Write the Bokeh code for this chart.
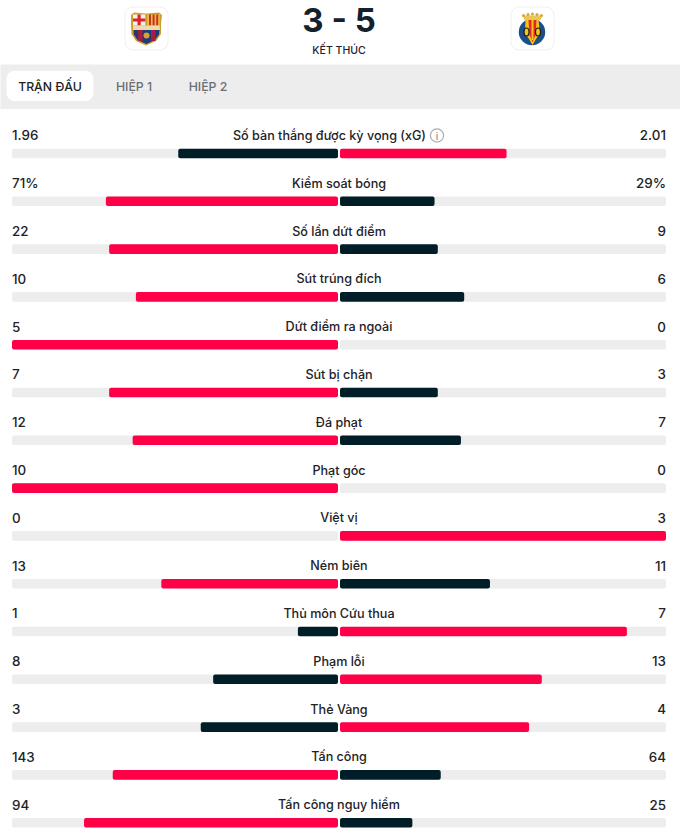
from bokeh.plotting import figure
from bokeh.embed import file_html
from bokeh.resources import INLINE
from bokeh.core.properties import value
from bokeh.models import ColumnDataSource, Range1d

labels = ["Số bàn thắng được kỳ vọng (xG)", "Kiểm soát bóng", "Số lần dứt điểm", "Sút trúng đích",
          "Dứt điểm ra ngoài", "Sút bị chặn", "Đá phạt", "Phạt góc", "Việt vị", "Ném biên",
          "Thủ môn Cứu thua", "Phạm lỗi", "Thẻ Vàng", "Tấn công", "Tấn công nguy hiểm"]
home_text = ["1.96", "71%", "22", "10", "5", "7", "12", "10", "0", "13", "1", "8", "3", "143", "94"]
away_text = ["2.01", "29%", "9", "6", "0", "3", "7", "0", "3", "11", "7", "13", "4", "64", "25"]
home_share = [49.0, 71.2, 70.2, 62.0, 100, 70.2, 63.0, 100, 0, 54.2, 12.3, 38.3, 42.1, 69.1, 77.9]
away_share = [51.1, 29.0, 30.0, 38.1, 0, 30.0, 37.1, 0, 100, 46.0, 88.0, 61.9, 58.0, 30.9, 22.2]
home_wins = [False, True, True, True, True, True, True, True, False, True, False, False, False, True, True]
away_wins = [True, False, False, False, False, False, False, False, True, False, True, True, True, False, False]

RED, DARK, TRACK, INK = "#ff0046", "#001e28", "#ededed", "#222226"
FONT = value("Inter Medium")

p = figure(width=680, height=835, output_backend="svg", toolbar_location=None,
           x_range=Range1d(0.5, 680.5), y_range=Range1d(835.5, 0.5), min_border=0,
           outline_line_color=None)
p.xaxis.visible = False
p.yaxis.visible = False
p.grid.visible = False
p.background_fill_color = "white"

rows = [135.4 + 47.8 * i for i in range(len(labels))]
bar_y = [r + 18.1 for r in rows]
half = 326
hl = [338 - s / 100 * half for s in home_share]
ar = [340 + s / 100 * half for s in away_share]
label_x = [329.5] + [339] * (len(labels) - 1)
src = ColumnDataSource(dict(y=bar_y, txt=labels, ht=home_text, at=away_text, rows=rows, hl=hl, ar=ar,
                            lx=label_x, hr=[338] * 15, al=[340] * 15,
                            hc=[RED if w else DARK for w in home_wins],
                            ac=[RED if w else DARK for w in away_wins]))

# header band + tabs
p.quad(left=[0], right=[681], top=[64.5], bottom=[109], fill_color="#ededed", line_color=None)
p.quad(left=[6.5], right=[93.5], top=[70.7], bottom=[101], fill_color="white", line_color=None, border_radius=8)
p.text(x=[50, 134, 208], y=[86, 86, 86], text=["TRẬN ĐẤU", "HIỆP 1", "HIỆP 2"],
       text_color=[INK, "#6b6f74", "#6b6f74"], text_font=FONT, text_font_size="12.3px",
       text_align="center", text_baseline="middle")

# score
p.text(x=[339], y=[19.5], text=["3 - 5"], text_color="#14202a", text_font=value("Inter"), text_font_size="33px",
       text_font_style="bold", text_align="center", text_baseline="middle")
p.text(x=[339], y=[50], text=["KẾT THÚC"], text_color=INK, text_font=FONT, text_font_size="10.5px",
       text_align="center", text_baseline="middle")

# badge boxes
p.quad(left=[125, 511], right=[168, 554], top=[7, 7], bottom=[50, 50], fill_color="white",
       line_color="#f0f0f0", border_radius=8)

# Barcelona crest
p.patch([131, 134, 145, 147, 159, 162, 161, 161, 156, 146, 136, 131.5, 131],
        [15, 12.5, 13.5, 13.5, 12.5, 15, 24, 34, 41, 45.5, 41, 34, 24], fill_color="#c9a02e", line_color=None)
p.quad(left=[133, 147.2], right=[145.3, 159.8], top=[14.5, 14.5], bottom=[25.5, 25.5],
       fill_color=["#f4efe9", "#ecbf3a"], line_color=None)
p.quad(left=[137.5, 133], right=[140.7, 145.3], top=[14.5, 18.5], bottom=[25.5, 21.5], fill_color="#d8262f", line_color=None)
p.quad(left=[149, 152.6, 156.2], right=[151, 154.6, 158.2], top=[14.5] * 3, bottom=[25.5] * 3, fill_color="#c8302e", line_color=None)
p.quad(left=[133], right=[159.8], top=[25.5], bottom=[30], fill_color="#ecdcae", line_color=None)
p.patch([133.5, 159.5, 159, 155, 146.3, 137.5, 133.8], [30, 30, 34.5, 40, 44, 40, 34.5], fill_color="#223a78", line_color=None)
p.quad(left=[138, 151], right=[142.5, 155.5], top=[30, 30], bottom=[41, 41], fill_color="#a51e3e", line_color=None)
p.circle(x=[146.5], y=[35.5], radius=3, fill_color="#d6a12f", line_color=None)

# Villarreal crest
p.ellipse(x=[532], y=[32], width=[26.5], height=[26.5], fill_color="#1b4f8c", line_color=None)
p.patch([525.5, 538.5, 540, 536, 532.5, 529, 525], [20, 20, 33, 39, 45, 39, 33], fill_color="#f5c518", line_color=None)
p.patch([528.5, 536.5, 535.5, 532.5, 529.5], [20, 20, 35, 42, 35], fill_color="#e5262a", line_color=None)
p.quad(left=[531.5], right=[533.5], top=[20], bottom=[40], fill_color="#f5c518", line_color=None)
p.ellipse(x=[526.5, 538], y=[32, 32], width=[5, 5], height=[8, 8], fill_color="#f5c518", line_color="#1c1712", line_width=1.2)
p.patch([522.5, 542.5, 540.5, 524.5], [15.5, 15.5, 20, 20], fill_color="#e8c65a", line_color=None)
p.circle(x=[523.5, 528, 532.5, 537, 541.5], y=[15.5, 14.5, 14, 14.5, 15.5], radius=1.5, fill_color="#d8a73a", line_color=None)

# bars
p.hbar(y=bar_y, height=9.6, left=12, right=338, fill_color=TRACK, line_color=None, border_radius=2)
p.hbar(y=bar_y, height=9.6, left=340, right=666, fill_color=TRACK, line_color=None, border_radius=2)
p.hbar(y="y", height=9.6, left="hl", right="hr", fill_color="hc", line_color=None, border_radius=2, source=src)
p.hbar(y="y", height=9.6, left="al", right="ar", fill_color="ac", line_color=None, border_radius=2, source=src)

# row texts
p.text(x="lx", y="rows", text="txt", source=src, text_color=INK, text_font=FONT, text_font_size="12.6px",
       text_align="center", text_baseline="middle")
p.text(x=12, y="rows", text="ht", source=src, text_color=INK, text_font=FONT, text_font_size="13.4px",
       text_align="left", text_baseline="middle")
p.text(x=666, y="rows", text="at", source=src, text_color=INK, text_font=FONT, text_font_size="13.4px",
       text_align="right", text_baseline="middle")

# info icon
p.circle(x=[437], y=[135.5], radius=6.6, fill_color="white", line_color="#a9acaf", line_width=1.2)
p.text(x=[437], y=[136], text=["i"], text_color="#8b8e91", text_font=FONT, text_font_size="9.5px",
       text_align="center", text_baseline="middle")

open("out.html", "w").write(file_html(p, INLINE))
